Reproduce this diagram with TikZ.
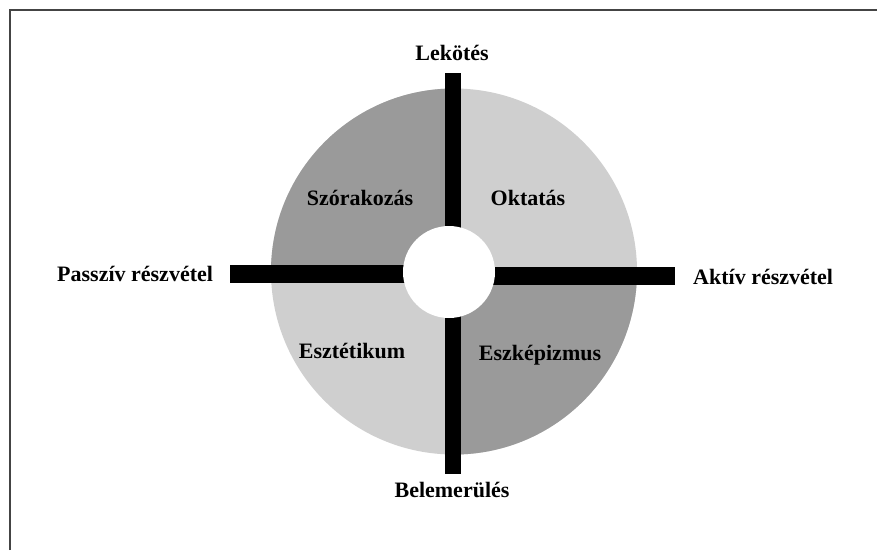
\documentclass[tikz,border=0pt]{standalone}
\usepackage{fontspec}
\setmainfont{Liberation Serif}
\definecolor{lightq}{HTML}{CFCFCF}
\definecolor{darkq}{HTML}{9A9A9A}
\definecolor{framec}{HTML}{444444}
\begin{document}
\begin{tikzpicture}[x=1pt,y=-1pt,
  lbl/.style={font=\fontsize{22}{26}\selectfont\bfseries, inner sep=0pt, anchor=base},
  barfill/.style={fill=black}]
\useasboundingbox (0,0) rectangle (877,550);
\fill[white] (0,0) rectangle (877,550);
\draw[line width=2pt, framec] (10,550) -- (10,10) -- (877,10);
% disc
\coordinate (c) at (454,271.5);
\fill[lightq] (c) circle (183pt);
\begin{scope}
  \clip (c) circle (183pt);
  \fill[darkq] (250,80) rectangle (453,275);
  \fill[darkq] (453,275) rectangle (660,470);
\end{scope}
% bars
\coordinate (vt) at (445,73);
\coordinate (vb) at (461,474);
\coordinate (lt) at (230,265);
\coordinate (lb) at (453,283);
\coordinate (rt) at (453,267);
\coordinate (rb) at (675,285);
\fill[barfill] (vt) rectangle (vb);
\fill[barfill] (lt) rectangle (lb);
\fill[barfill] (rt) rectangle (rb);
% hole
\coordinate (h) at (449,272);
\fill[white] (h) circle (46pt);
% labels
\node[lbl] (lek) at (452,60) {Lekötés};
\node[lbl] (bel) at (452,497) {Belemerülés};
\node[lbl, anchor=base west] (pas) at (57,281) {Passzív részvétel};
\node[lbl, anchor=base west] (akt) at (693,284) {Aktív részvétel};
\node[lbl] (szo) at (360,205) {Szórakozás};
\node[lbl] (okt) at (528,205) {Oktatás};
\node[lbl] (esz) at (352,358) {Esztétikum};
\node[lbl] (esk) at (540,360) {Eszképizmus};
\end{tikzpicture}
\end{document}
